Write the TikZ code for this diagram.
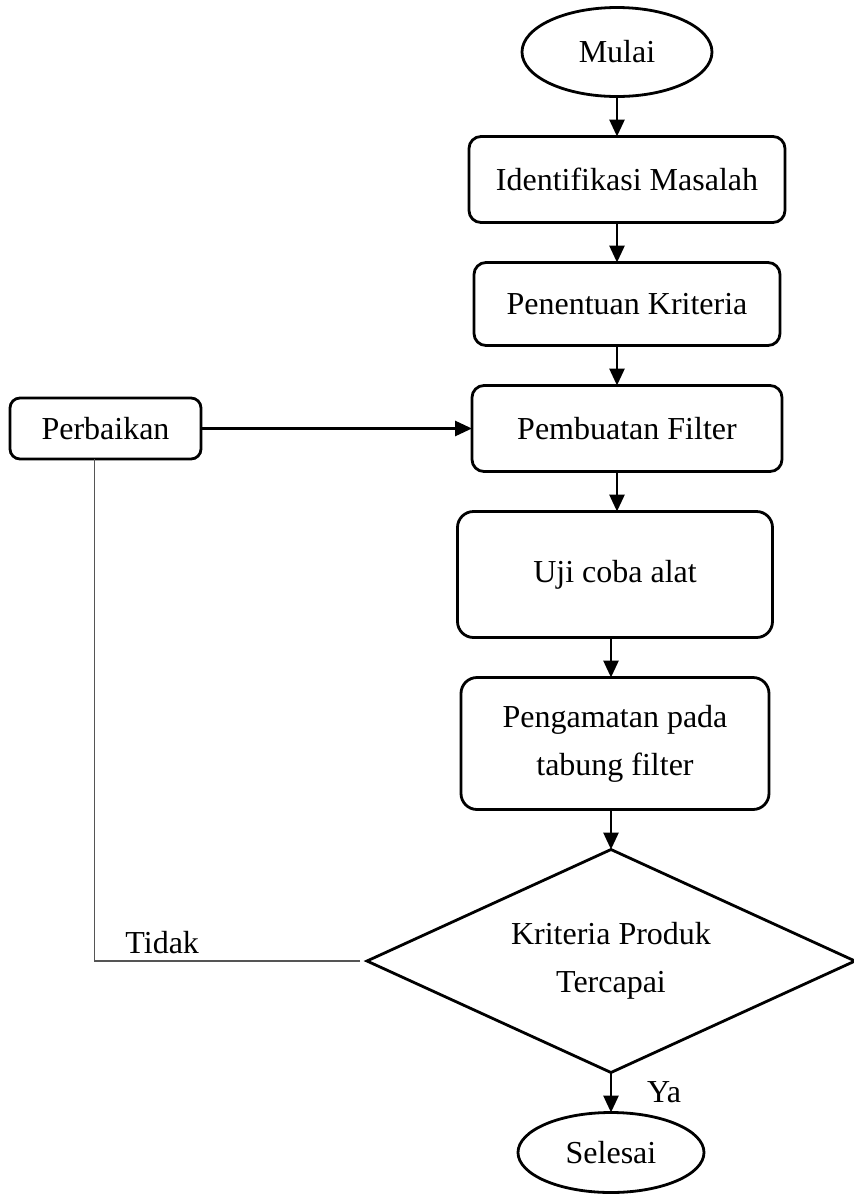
\documentclass[tikz,border=0pt]{standalone}
\usepackage{fontspec}
\setmainfont{Liberation Serif}
\usetikzlibrary{arrows.meta, positioning, shapes.geometric}
\definecolor{lineGray}{HTML}{555555}
\tikzset{
  arrowK/.style={-{Triangle[length=8.5pt, width=7.5pt]}, black, line width=1.4pt},
  boxStep/.style={rectangle, rounded corners=6pt, draw=black, line width=1.4pt,
                  align=center, inner sep=0pt, outer sep=0pt},
  boxTerm/.style={ellipse, draw=black, line width=1.4pt, inner sep=0pt, outer sep=0pt},
  boxDec/.style={diamond, draw=black, line width=1.4pt, align=center,
                 inner sep=0pt, outer sep=0pt, aspect=2.2},
  lineG/.style={color=lineGray, line width=0.9pt},
}
\begin{document}
\begin{tikzpicture}[font=\fontsize{16}{24}\selectfont, node distance=20pt]
  \useasboundingbox (0,0) rectangle (427pt,-598pt);
  \node[boxTerm, minimum width=95pt, minimum height=44.5pt] (mulai) at (308.5pt,-26pt) {Mulai};
  \node[boxStep, below=of mulai, xshift=5pt, minimum width=158pt, minimum height=43pt]
        (ident) {Identifikasi Masalah};
  \node[boxStep, below=of ident, minimum width=153pt, minimum height=41.5pt]
        (pen) {Penentuan Kriteria};
  \node[boxStep, below=of pen, minimum width=155pt, minimum height=43pt]
        (pemb) {Pembuatan Filter};
  \node[boxStep, below=of pemb, xshift=-6pt, minimum width=157.5pt, minimum height=63pt,
        rounded corners=8pt] (uji) {Uji coba alat};
  \node[boxStep, below=of uji, minimum width=154pt, minimum height=66pt,
        rounded corners=8pt] (peng) {Pengamatan pada\\tabung filter};
  \node[boxDec, below=of peng, xshift=-2pt, minimum width=244pt, minimum height=111.5pt]
        (dec) {Kriteria Produk\\Tercapai};
  \node[boxTerm, below=of dec, minimum width=93pt, minimum height=40pt] (sel) {Selesai};
  \node[boxStep, left=135.5pt of pemb, minimum width=95.5pt, minimum height=30.5pt,
        rounded corners=5pt] (perb) {Perbaikan};
  % main flow
  \foreach \a/\b in {mulai/ident, ident/pen, pen/pemb, pemb/uji}
    \draw[arrowK] (\a.south -| mulai) -- (\b.north -| mulai);
  \foreach \a/\b in {uji/peng, peng/dec}
    \draw[arrowK] (\a.south -| dec) -- (\b.north -| dec);
  \draw[arrowK] (dec.south) -- node[right=14pt] {Ya} (sel.north -| dec);
  % loop back
  \draw[arrowK] (perb) -- (pemb);
  \draw[lineG] ([xshift=-3.5pt]dec.west) -- node[above, pos=0.745, text=black] {Tidak}
    ([xshift=-5.5pt]dec.west -| perb.south) -- ([xshift=-5.5pt]perb.south);
\end{tikzpicture}
\end{document}
